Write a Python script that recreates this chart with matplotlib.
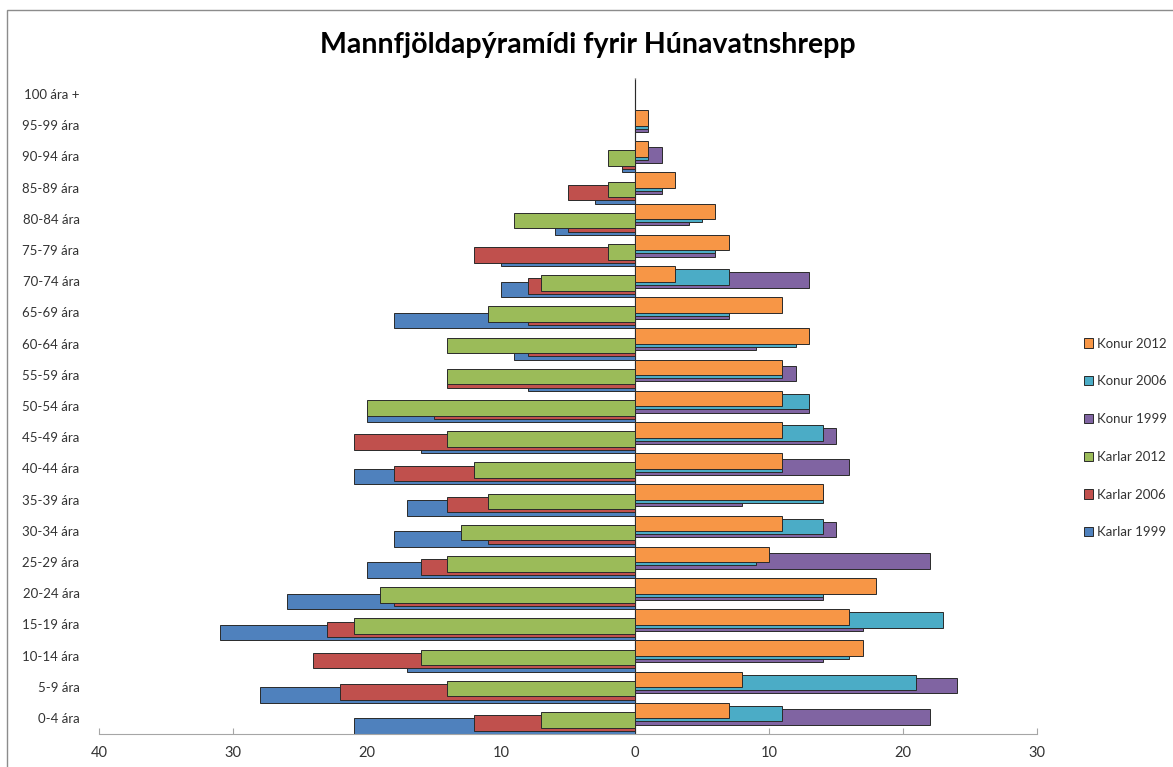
import numpy as np
import matplotlib
matplotlib.use("Agg")
import matplotlib.pyplot as plt
from matplotlib.patches import Rectangle
from matplotlib.ticker import FuncFormatter

plt.rcParams['font.family'] = ['Lato', 'DejaVu Sans']

# Age groups, bottom to top
ages = ["0-4 ára", "5-9 ára", "10-14 ára", "15-19 ára", "20-24 ára", "25-29 ára",
        "30-34 ára", "35-39 ára", "40-44 ára", "45-49 ára", "50-54 ára", "55-59 ára",
        "60-64 ára", "65-69 ára", "70-74 ára", "75-79 ára", "80-84 ára", "85-89 ára",
        "90-94 ára", "95-99 ára", "100 ára +"]

karlar_1999 = [21, 28, 17, 31, 26, 20, 18, 17, 21, 16, 20, 8, 9, 18, 10, 10, 6, 3, 1, 0, 0]
karlar_2006 = [12, 22, 24, 23, 18, 16, 11, 14, 18, 21, 15, 14, 8, 8, 8, 12, 5, 5, 1, 0, 0]
karlar_2012 = [7, 14, 16, 21, 19, 14, 13, 11, 12, 14, 20, 14, 14, 11, 7, 2, 9, 2, 2, 0, 0]
konur_1999 = [22, 24, 14, 17, 14, 22, 15, 8, 16, 15, 13, 12, 9, 7, 13, 6, 4, 2, 2, 1, 0]
konur_2006 = [11, 21, 16, 23, 14, 9, 14, 14, 11, 14, 13, 11, 12, 7, 7, 6, 5, 2, 1, 1, 0]
konur_2012 = [7, 8, 17, 16, 18, 10, 11, 14, 11, 11, 11, 11, 13, 11, 3, 7, 6, 3, 1, 1, 0]

series = [
    ("Karlar 1999", karlar_1999, -1, "#4F81BD"),
    ("Karlar 2006", karlar_2006, -1, "#C0504D"),
    ("Karlar 2012", karlar_2012, -1, "#9BBB59"),
    ("Konur 1999", konur_1999, 1, "#8064A2"),
    ("Konur 2006", konur_2006, 1, "#4BACC6"),
    ("Konur 2012", konur_2012, 1, "#F79646"),
]

fig = plt.figure(figsize=(11.73, 7.67), dpi=100)
# chart border
fig.patches.append(Rectangle((7 / 1173, -0.1), 1.2, 1 - 10 / 767 + 0.1,
                             transform=fig.transFigure, fill=False,
                             edgecolor="#8c8c8c", linewidth=1.0))

ax = fig.add_axes([99 / 1173, 1 - 733.6 / 767, (1037 - 99) / 1173, (733.6 - 78.4) / 767])

y = np.arange(len(ages))
h = 0.5
handles = {}
for k, (name, vals, sign, col) in enumerate(series):
    off = (k - 2.6) * 0.1
    bars = ax.barh(y + off, sign * np.array(vals), height=h, color=col,
                   edgecolor="#2a2a2a", linewidth=0.7, zorder=2 + k)
    handles[name] = bars

ax.axvline(0, color="#a6a6a6", linewidth=1.0, zorder=1)

ax.set_xlim(-40, 30)
ax.set_ylim(-0.5, len(ages) - 0.5)
ax.set_xticks(range(-40, 31, 10))
ax.xaxis.set_major_formatter(FuncFormatter(lambda v, p: f"{abs(int(v))}"))
ax.set_yticks(y)
ax.set_yticklabels(ages)
ax.tick_params(axis="y", length=0, pad=14, labelsize=9.5, labelcolor="#333333")
ax.tick_params(axis="x", length=4, direction="in", color="#a6a6a6",
               labelsize=10.5, labelcolor="#333333", pad=9)
for s in ["top", "right", "left"]:
    ax.spines[s].set_visible(False)
ax.spines["bottom"].set_color("#a6a6a6")

fig.text(588 / 1173, 1 - 45 / 767, "Mannfjöldapýramídi fyrir Húnavatnshrepp",
         ha="center", va="center", fontsize=20.5, fontweight="bold")

order = ["Konur 2012", "Konur 2006", "Konur 1999", "Karlar 2012", "Karlar 2006", "Karlar 1999"]
fig.legend([handles[n] for n in order], order, loc="center left",
           bbox_to_anchor=(1072 / 1173, 1 - 438 / 767), frameon=False,
           fontsize=9.5, labelspacing=1.95, handlelength=0.7, handleheight=0.7,
           handletextpad=0.3, labelcolor="#333333")

fig.savefig("out.png", dpi=100)
